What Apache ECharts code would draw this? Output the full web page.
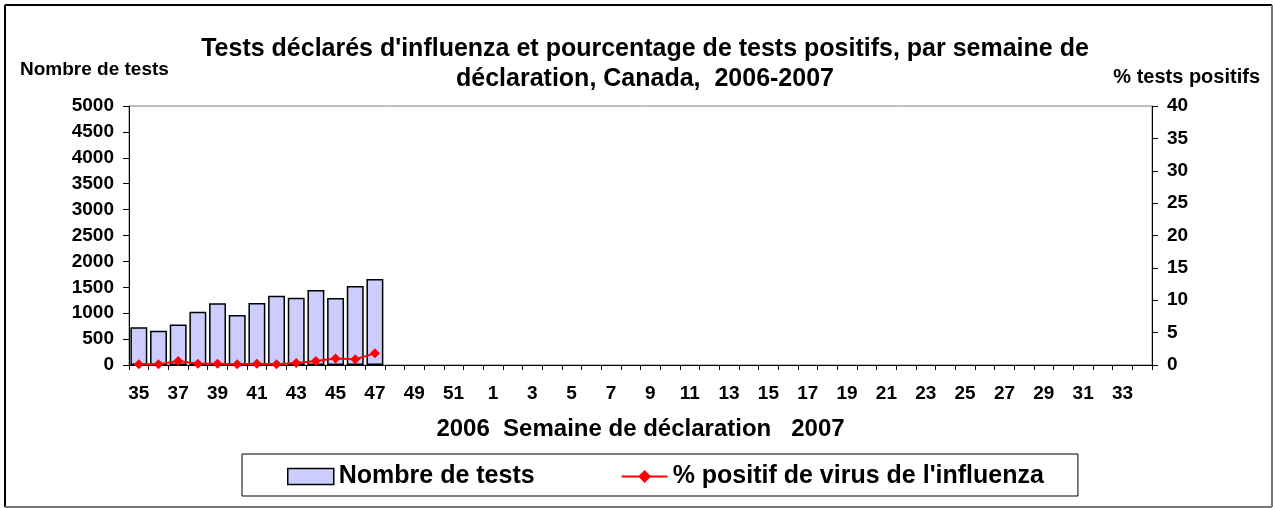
<!DOCTYPE html>
<html><head><meta charset="utf-8">
<script src="https://cdn.jsdelivr.net/npm/echarts@6/dist/echarts.min.js"></script>
<style>html,body{margin:0;padding:0;background:#fff}#c{width:1273px;height:508px}</style>
</head><body><div id="c"></div>
<script>
var weeks = ['35','36','37','38','39','40','41','42','43','44','45','46','47','48','49','50','51','52',
  '1','2','3','4','5','6','7','8','9','10','11','12','13','14','15','16','17','18','19','20','21','22','23','24','25','26','27','28','29','30','31','32','33','34'];
var testCounts = [730, 660, 780, 1030, 1190, 965, 1195, 1338, 1300, 1448, 1293, 1525, 1660];
var pctPositive = [0.1, 0.1, 0.6, 0.2, 0.2, 0.1, 0.2, 0.1, 0.3, 0.6, 1.0, 0.9, 1.8];
var titleLines = ["Tests déclarés d'influenza et pourcentage de tests positifs, par semaine de", "déclaration, Canada,  2006-2007"];
var leftTicks = {min: 0, max: 5000, interval: 500};
var rightTicks = {min: 0, max: 40, interval: 5};

var F = "'Liberation Sans', Arial, sans-serif";
var chart = echarts.init(document.getElementById('c'), null, {renderer: 'canvas'});
chart.setOption({
  animation: false,
  backgroundColor: '#fff',
  title: {
    text: titleLines.join('\n'), left: 640, top: 29, textAlign: 'center',
    textStyle: {fontFamily: F, fontWeight: 'bold', fontSize: 25, color: '#000', lineHeight: 30}
  },
  grid: {left: 129, right: 121, top: 106, bottom: 143, show: true, borderColor: '#808080', borderWidth: 1},
  legend: {
    left: 242, top: 454,
    padding: [10, 34, 7, 45],
    itemGap: 86, itemWidth: 46, itemHeight: 16,
    borderColor: '#000', borderWidth: 1,
    textStyle: {fontFamily: F, fontWeight: 'bold', fontSize: 25, color: '#000'},
    data: [
      {name: 'Nombre de tests', icon: 'rect', itemStyle: {color: '#CCCCFF', borderColor: '#000', borderWidth: 1.5}},
      {name: "% positif de virus de l'influenza"}
    ]
  },
  xAxis: {
    type: 'category', data: weeks, boundaryGap: true,
    name: '2006  Semaine de déclaration   2007', nameLocation: 'middle', nameGap: 52,
    nameTextStyle: {fontFamily: F, fontWeight: 'bold', fontSize: 24, color: '#000'},
    axisLine: {lineStyle: {color: '#000', width: 1}},
    axisTick: {show: true, length: 5, interval: 0, lineStyle: {color: '#000'}},
    axisLabel: {interval: 1, margin: 19, fontFamily: F, fontWeight: 'bold', fontSize: 19, color: '#000'}
  },
  yAxis: [
    {
      type: 'value', min: leftTicks.min, max: leftTicks.max, interval: leftTicks.interval,
      axisLine: {show: true, lineStyle: {color: '#000'}},
      axisTick: {show: true, length: 6, lineStyle: {color: '#000'}},
      splitLine: {show: false},
      axisLabel: {margin: 15, formatter: function (v) { return String(v); }, fontFamily: F, fontWeight: 'bold', fontSize: 19, color: '#000'}
    },
    {
      type: 'value', position: 'right', min: rightTicks.min, max: rightTicks.max, interval: rightTicks.interval,
      axisLine: {show: true, lineStyle: {color: '#000'}},
      axisTick: {show: true, length: 6, lineStyle: {color: '#000'}},
      splitLine: {show: false},
      axisLabel: {margin: 15, fontFamily: F, fontWeight: 'bold', fontSize: 19, color: '#000'}
    }
  ],
  graphic: [
    {type: 'text', left: 20, top: 60, style: {text: 'Nombre de tests', font: "bold 19px 'Liberation Sans', Arial, sans-serif", fill: '#000'}},
    {type: 'text', right: 13, top: 67, style: {text: '% tests positifs', font: "bold 20px 'Liberation Sans', Arial, sans-serif", fill: '#000'}},
    {type: 'line', shape: {x1: 5, y1: 5, x2: 1272, y2: 5}, style: {stroke: '#000', lineWidth: 2}},
    {type: 'line', shape: {x1: 5, y1: 5, x2: 5, y2: 507}, style: {stroke: '#000', lineWidth: 2}},
    {type: 'line', shape: {x1: 1272, y1: 5, x2: 1272, y2: 507}, style: {stroke: '#777', lineWidth: 2}},
    {type: 'line', shape: {x1: 5, y1: 507, x2: 1272, y2: 507}, style: {stroke: '#777', lineWidth: 2}}
  ],
  series: [
    {
      name: 'Nombre de tests', type: 'bar', data: testCounts, barCategoryGap: '14%',
      itemStyle: {color: '#CCCCFF', borderColor: '#000', borderWidth: 1.5}
    },
    {
      name: "% positif de virus de l'influenza", type: 'line', yAxisIndex: 1, data: pctPositive,
      symbol: 'diamond', symbolSize: 10,
      lineStyle: {color: '#FF0000', width: 2}, itemStyle: {color: '#FF0000'}
    }
  ]
});
</script></body></html>
